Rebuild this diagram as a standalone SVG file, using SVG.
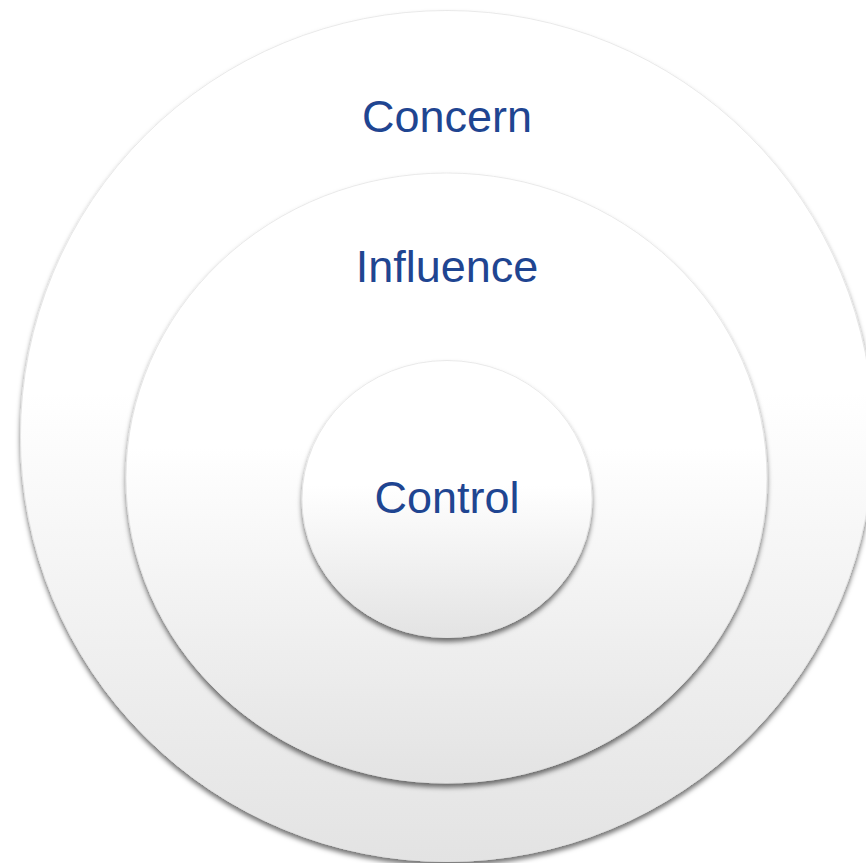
<svg xmlns="http://www.w3.org/2000/svg" width="866" height="863" viewBox="0 0 866 863">
  <defs>
    <!-- soft white-to-grey fill shared by every ring -->
    <linearGradient id="ringFill" x1="0" y1="0" x2="0" y2="1">
      <stop offset="0" stop-color="#ffffff"/>
      <stop offset="0.45" stop-color="#ffffff"/>
      <stop offset="1" stop-color="#e3e3e3"/>
    </linearGradient>
    <!-- drop shadow cast mostly downward -->
    <filter id="ringShadow" x="-10%" y="-10%" width="120%" height="125%">
      <feGaussianBlur in="SourceAlpha" stdDeviation="2.6"/>
      <feOffset dx="0" dy="3.5" result="blur"/>
      <feFlood flood-color="#000000" flood-opacity="0.55"/>
      <feComposite in2="blur" operator="in"/>
      <feMerge>
        <feMergeNode/>
        <feMergeNode in="SourceGraphic"/>
      </feMerge>
    </filter>
  </defs>
  <style>
    .ring { fill: url(#ringFill); stroke: #e4e4e4; stroke-width: 0.8; filter: url(#ringShadow); }
    .label { font-family: "Liberation Sans", Arial, sans-serif; font-size: 45px; fill: #1f4591; text-anchor: middle; }
  </style>
  <rect width="866" height="863" fill="#ffffff"/>

  <g id="concern">
    <ellipse class="ring" cx="447" cy="436" rx="426.5" ry="425.5"/>
    <text class="label" x="447" y="132">Concern</text>
  </g>

  <g id="influence">
    <ellipse class="ring" cx="446.5" cy="478" rx="320.5" ry="305"/>
    <text class="label" x="447" y="282">Influence</text>
  </g>

  <g id="control">
    <ellipse class="ring" cx="447" cy="499" rx="145" ry="138.5"/>
    <text class="label" x="447" y="513">Control</text>
  </g>

  <g id="connectors"/>
</svg>
